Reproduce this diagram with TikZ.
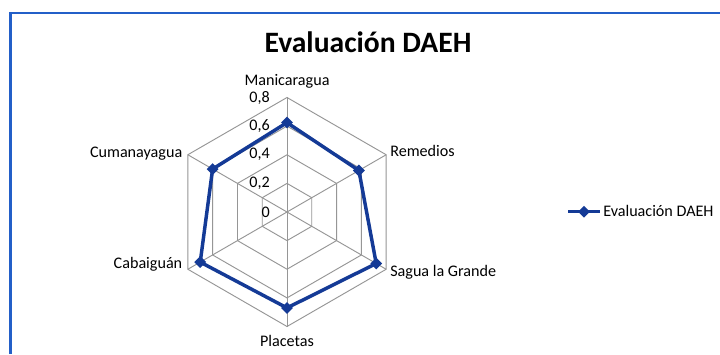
\documentclass[tikz,border=0pt]{standalone}
\usepackage{fontspec}
\setmainfont{Carlito}
\usetikzlibrary{calc,shapes.geometric}
\definecolor{framebl}{RGB}{35,95,200}
\definecolor{seriesbl}{RGB}{20,58,150}
\definecolor{gridg}{RGB}{150,150,150}
\begin{document}
\begin{tikzpicture}[x=0.75pt,y=0.75pt,
  lbl/.style={inner sep=0pt,font=\fontsize{12.1}{14}\selectfont},
  gridline/.style={draw=gridg,line width=0.7pt},
  serieline/.style={draw=seriesbl,line width=2.6pt,line join=round},
  dmark/.style={shape=diamond,fill=seriesbl,inner sep=0pt,minimum size=9pt}]
\useasboundingbox (0,0) rectangle (720,354);
\fill[white] (0,0) rectangle (720,354);
% frame
\coordinate (fb) at (10.5,0);
\coordinate (ftl) at (10.5,341);
\coordinate (ftr) at (720,341);
\draw[framebl,line width=1.6pt] (fb) -- (ftl) -- (ftr);
% title
\node[inner sep=0pt,anchor=base,font=\fontsize{22.2}{26}\selectfont\bfseries] (title) at (368,301) {Evaluación DAEH};
% center and outer vertices
\coordinate (C) at (287,142);
\foreach \a [count=\i] in {90,30,-30,-90,-150,150} {
  \coordinate (v\i) at ($(C)+(\a:114.5)$);
}
% rings
\foreach \r in {28.6,57.2,85.9,114.5} {
  \draw[gridline] ($(C)+(90:\r)$) -- ($(C)+(30:\r)$) -- ($(C)+(-30:\r)$) -- ($(C)+(-90:\r)$) -- ($(C)+(-150:\r)$) -- ($(C)+(150:\r)$) -- cycle;
}
% spokes
\foreach \i in {1,...,6} { \draw[gridline] (C) -- (v\i); }
% tick labels
\node[lbl,anchor=east] (t0) at (270,141.3) {0};
\node[lbl,anchor=east] (t2) at (270,171) {0,2};
\node[lbl,anchor=east] (t4) at (270,199.3) {0,4};
\node[lbl,anchor=east] (t6) at (270,227.5) {0,6};
\node[lbl,anchor=east] (t8) at (270,256) {0,8};
% category labels
\node[lbl,anchor=base] (lman) at (287,268) {Manicaragua};
\node[lbl,anchor=base west] (lrem) at (390,197.3) {Remedios};
\node[lbl,anchor=base west] (lsag) at (390,77.5) {Sagua la Grande};
\node[lbl,anchor=base] (lpla) at (287,8) {Placetas};
\node[lbl,anchor=base east] (lcab) at (182.5,85.7) {Cabaiguán};
\node[lbl,anchor=base east] (lcum) at (182.5,196.7) {Cumanayagua};
% data points
\coordinate (p1) at ($(C)+(90:89.4)$);
\coordinate (p2) at ($(C)+(30:83.0)$);
\coordinate (p3) at ($(C)+(-30:103.0)$);
\coordinate (p4) at ($(C)+(-90:95.9)$);
\coordinate (p5) at ($(C)+(-150:100.2)$);
\coordinate (p6) at ($(C)+(150:85.9)$);
\draw[serieline] (p1) -- (p2) -- (p3) -- (p4) -- (p5) -- (p6) -- cycle;
\foreach \i in {1,...,6} { \node[dmark] (m\i) at (p\i) {}; }
% legend
\coordinate (la) at (568,142.3);
\coordinate (lb) at (600,142.3);
\draw[serieline] (la) -- (lb);
\node[dmark] (lm) at (584,142.3) {};
\node[lbl,anchor=base west] (ltext) at (603,137.3) {Evaluación DAEH};
\end{tikzpicture}
\end{document}
